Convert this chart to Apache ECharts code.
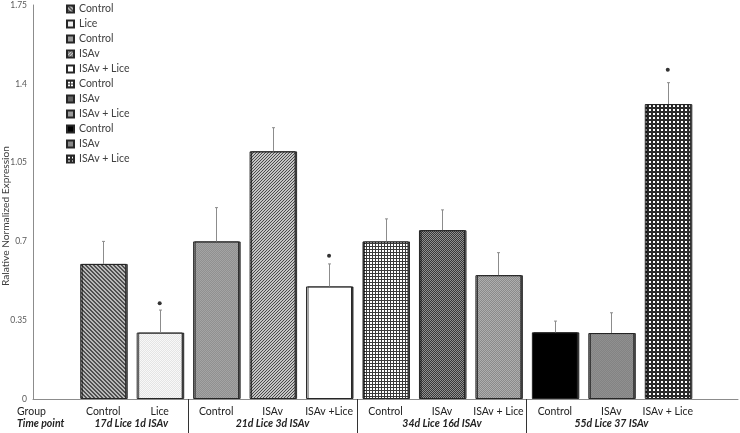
<!DOCTYPE html>
<html><head><meta charset="utf-8">
<script src="https://cdn.jsdelivr.net/npm/echarts@6/dist/echarts.min.js"></script>
<style>html,body{margin:0;padding:0;background:#fff}#c{width:740px;height:433px}</style>
</head><body><div id="c"></div>
<script>
// ---- data ----
const groups = ['Control','Lice','Control','ISAv','ISAv +Lice','Control','ISAv','ISAv + Lice','Control','ISAv','ISAv + Lice'];
const legendNames = ['Control','Lice','Control','ISAv','ISAv + Lice','Control','ISAv','ISAv + Lice','Control','ISAv','ISAv + Lice'];
const timePoints = ['17d Lice 1d ISAv','21d Lice 3d ISAv','34d Lice 16d ISAv','55d Lice 37 ISAv'];
const timePointSizes = [2,3,3,3];
const values = [0.60,0.295,0.70,1.10,0.50,0.70,0.75,0.55,0.296,0.293,1.31];
const errors = [0.10,0.10,0.15,0.105,0.10,0.10,0.09,0.10,0.05,0.09,0.095];
const sigDots = [null,0.425,null,null,0.636,null,null,null,null,null,1.462];
const yTicks = [0,0.35,0.7,1.05,1.4,1.75];

// ---- patterns ----
function pat(size, fn){
  const c=document.createElement('canvas'); c.width=size; c.height=size;
  const g=c.getContext('2d');
  for(let y=0;y<size;y++)for(let x=0;x<size;x++){g.fillStyle=fn(x,y);g.fillRect(x,y,1,1);}
  return {image:c, repeat:'repeat'};
}
const fills = [
  pat(4,(x,y)=>((x-y+8)%4<2)?'#505050':'#b8b8b8'),          // diag \
  pat(2,(x,y)=>((x+y)%2)?'#e4e4e4':'#f8f8f8'),              // light dots
  pat(2,(x,y)=>((x+y)%2)?'#909090':'#a4a4a4'),              // medium gray
  pat(3,(x,y)=>((x+y)%3==0)?'#4a4a4a':'#c4c4c4'),           // diag /
  '#ffffff',
  pat(3,(x,y)=>(x%3==0||y%3==0)?'#3a3a3a':'#ffffff'),        // grid
  pat(2,(x,y)=>((x+y)%2)?'#383838':'#909090'),              // dark checker
  pat(2,(x,y)=>((x+y)%2)?'#8a8a8a':'#aeaeae'),              // medium
  '#000000',
  pat(2,(x,y)=>((x+y)%2)?'#838383':'#909090'),              // gray
  pat(4,(x,y)=>((x%4)>=1&&(x%4)<=2&&(y%4)>=1&&(y%4)<=2)?'#ffffff':'#2a2a2a') // big check
];

const FONT='Lato';
const tpCenters=[]; (function(){let s=0;timePointSizes.forEach(n=>{tpCenters.push(s+(n-1)/2);s+=n;});})();
const dividers=[]; (function(){let s=0;timePointSizes.slice(0,-1).forEach(n=>{s+=n;dividers.push(s-0.5);});})();

// plot spans x 33..738, categories occupy 75..696 (11 bands)
const XMIN=-1.24, XMAX=11.24;
const barSeries = values.map((v,k)=>({
  name:'s'+k, type:'bar', xAxisIndex:0, yAxisIndex:0,
  data:values.map((vv,i)=>i===k?vv:'-'), barWidth:46, barGap:'-100%',
  itemStyle:{color:fills[k], borderColor:'#262626', borderWidth:1,
    shadowColor:'rgba(0,0,0,0.7)', shadowOffsetX:1.5, shadowOffsetY:0, shadowBlur:0},
  emphasis:{disabled:true}, animation:false
}));

const chart=echarts.init(document.getElementById('c'),null,{renderer:'canvas'});
chart.setOption({
  animation:false,
  textStyle:{fontFamily:FONT},
  grid:[
    {left:75,right:44,top:5,bottom:34,containLabel:false,outerBoundsMode:'none'},
    {left:33,right:2,top:5,bottom:34,containLabel:false,outerBoundsMode:'none'}
  ],
  legend:{
    data:values.map((v,i)=>'s'+i), orient:'vertical', left:66, top:3,
    itemWidth:7, itemHeight:7, itemGap:3, padding:0, icon:'rect',
    formatter:n=>legendNames[+n.slice(1)],
    textStyle:{fontFamily:FONT,fontSize:10.5,color:'#404040',lineHeight:12},
    selectedMode:false
  },
  xAxis:[{
    gridIndex:0, type:'category', data:groups, boundaryGap:true,
    axisLine:{show:false}, axisTick:{show:false}, splitLine:{show:false},
    axisLabel:{interval:0,fontFamily:FONT,fontSize:10.5,color:'#222',margin:7}
  },{
    gridIndex:1, type:'value', min:XMIN, max:XMAX, position:'bottom',
    axisLine:{show:true,onZero:false,lineStyle:{color:'#8c8c8c',width:1}},
    splitLine:{show:false},
    axisTick:{show:true,customValues:dividers,length:34,lineStyle:{color:'#333',width:1}},
    axisLabel:{customValues:tpCenters, formatter:v=>timePoints[tpCenters.indexOf(v)]||'',
      fontFamily:FONT,fontSize:10.5,fontStyle:'italic',fontWeight:'bold',color:'#222',margin:19}
  }],
  yAxis:[{
    gridIndex:0, type:'value', min:0, max:1.75, interval:0.35, offset:42,
    name:'Ralative Normalized Expression', nameLocation:'middle', nameGap:22,
    nameMoveOverlap:false,
    nameTextStyle:{fontFamily:FONT,fontSize:10.2,color:'#404040',padding:[0,28,0,0]},
    axisLine:{show:true,lineStyle:{color:'#8c8c8c',width:1}},
    axisTick:{show:false}, splitLine:{show:false},
    axisLabel:{fontFamily:FONT,fontSize:8.5,color:'#595959',margin:6,formatter:v=>String(+v.toFixed(2))}
  },{
    gridIndex:1, type:'value', min:0, max:1.75, show:false
  }],
  graphic:[
    {type:'text',left:17,top:406,style:{text:'Group',font:'10.5px Lato',fill:'#222'}},
    {type:'text',left:17,top:418,style:{text:'Time point',font:'italic bold 10.5px Lato',fill:'#222'}}
  ],
  series:[...barSeries,
  {
    type:'custom', name:'err', xAxisIndex:0, yAxisIndex:0, z:5,
    data:values.map((v,i)=>[i,v,v+errors[i]]),
    encode:{x:0,y:[1,2]},
    renderItem:(params,api)=>{
      const p0=api.coord([api.value(0),api.value(1)]);
      const p1=api.coord([api.value(0),api.value(2)]);
      const x=Math.round(p0[0])+0.5;
      return {type:'group',children:[
        {type:'line',shape:{x1:x,y1:p0[1],x2:x,y2:p1[1]},style:{stroke:'#8c8c8c',lineWidth:1}},
        {type:'line',shape:{x1:x-1.5,y1:p1[1],x2:x+1.5,y2:p1[1]},style:{stroke:'#8c8c8c',lineWidth:1}}
      ]};
    },
    silent:true, animation:false
  },{
    type:'scatter', name:'sig', xAxisIndex:0, yAxisIndex:0, z:6,
    data:sigDots.map((v,i)=>v==null?'-':v),
    symbol:'circle', symbolSize:4, itemStyle:{color:'#000'}, silent:true, animation:false
  }]
});
</script></body></html>
